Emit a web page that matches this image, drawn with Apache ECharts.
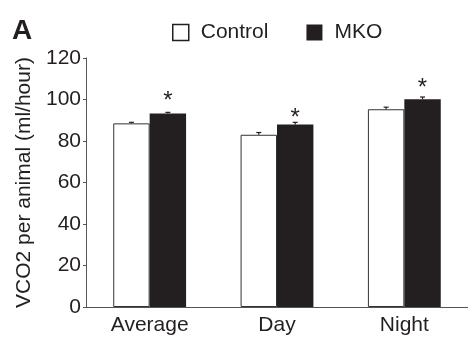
<!DOCTYPE html>
<html><head><meta charset="utf-8">
<script src="https://cdn.jsdelivr.net/npm/echarts@6/dist/echarts.min.js"></script>
<style>html,body{margin:0;padding:0;background:#fff}#c{width:468px;height:337px}</style>
</head><body><div id="c"></div>
<script>
var categories = ['Average', 'Day', 'Night'];
var controlValues = [88.5, 83.0, 95.3];
var controlErrors = [0.5, 1.1, 1.0];
var mkoValues = [93.3, 88.0, 100.1];
var mkoErrors = [0.5, 1.0, 1.1];
var starValues = [101.7, 93.5, 108.0];
var yTicks = [0, 20, 40, 60, 80, 100, 120];

var FONT = 'Liberation Sans, Arial, sans-serif';
var BAR_FRAC = 0.286;

function errSeries(vals, errs, side) {
  return {
    type: 'custom',
    z: 5,
    silent: true,
    data: vals.map(function (v, i) { return [i, v, v + errs[i]]; }),
    renderItem: function (params, api) {
      var band = api.size([1, 0])[0];
      var off = side * band * BAR_FRAC / 2;
      var base = api.coord([api.value(0), api.value(1)]);
      var top = api.coord([api.value(0), api.value(2)]);
      var x = base[0] + off;
      var style = { stroke: '#231f20', lineWidth: 1.2 };
      return { type: 'group', children: [
        { type: 'line', shape: { x1: x, y1: base[1], x2: x, y2: top[1] }, style: style },
        { type: 'line', shape: { x1: x - 2.5, y1: top[1], x2: x + 2.5, y2: top[1] }, style: style }
      ]};
    }
  };
}

var chart = echarts.init(document.getElementById('c'));
chart.setOption({
  animation: false,
  backgroundColor: '#fff',
  graphic: [{ type: 'text', left: 12, top: 17, style: { text: 'A', font: 'bold 28px ' + FONT, fill: '#231f20' } }],
  legend: {
    left: 167, top: 17, itemWidth: 16, itemHeight: 16, itemGap: 38,
    textStyle: { fontFamily: FONT, fontSize: 21, color: '#231f20', padding: [0, 0, 0, 7] },
    data: [
      { name: 'Control', icon: 'rect', itemStyle: { color: '#fff', borderColor: '#231f20', borderWidth: 1.5 } },
      { name: 'MKO', icon: 'rect', itemStyle: { color: '#231f20' } }
    ]
  },
  grid: { left: 86, right: 0, top: 58, bottom: 30, containLabel: false },
  xAxis: {
    type: 'category', data: categories,
    axisLine: { lineStyle: { color: '#555', width: 1 } },
    axisTick: { length: 4, lineStyle: { color: '#555' } },
    axisLabel: { fontFamily: FONT, fontSize: 21, color: '#231f20', margin: 8 }
  },
  yAxis: {
    type: 'value', min: yTicks[0], max: yTicks[yTicks.length - 1], interval: 20,
    name: 'VCO2 per animal (ml/hour)', nameLocation: 'middle', nameGap: 51,
    nameTextStyle: { fontFamily: FONT, fontSize: 21, color: '#231f20' },
    axisLine: { show: true, lineStyle: { color: '#555', width: 1 } },
    axisTick: { show: true, length: 3, lineStyle: { color: '#555' } },
    splitLine: { show: false },
    axisLabel: { fontFamily: FONT, fontSize: 21, color: '#231f20', margin: 5 }
  },
  series: [
    { name: 'Control', type: 'bar', data: controlValues, barWidth: (BAR_FRAC * 100) + '%', barGap: '0%',
      itemStyle: { color: '#fff', borderColor: '#333', borderWidth: 1 } },
    { name: 'MKO', type: 'bar', data: mkoValues, barWidth: (BAR_FRAC * 100) + '%', barGap: '0%',
      itemStyle: { color: '#231f20' } },
    errSeries(controlValues, controlErrors, -1),
    errSeries(mkoValues, mkoErrors, 1),
    {
      type: 'custom', z: 6, silent: true,
      data: starValues.map(function (v, i) { return [i, v]; }),
      renderItem: function (params, api) {
        var band = api.size([1, 0])[0];
        var p = api.coord([api.value(0), api.value(1)]);
        return { type: 'text', x: p[0] + band * BAR_FRAC / 2, y: p[1] + 5,
          style: { text: '*', font: '24px ' + FONT, fill: '#231f20', align: 'center', verticalAlign: 'middle' } };
      }
    }
  ]
});
</script></body></html>
